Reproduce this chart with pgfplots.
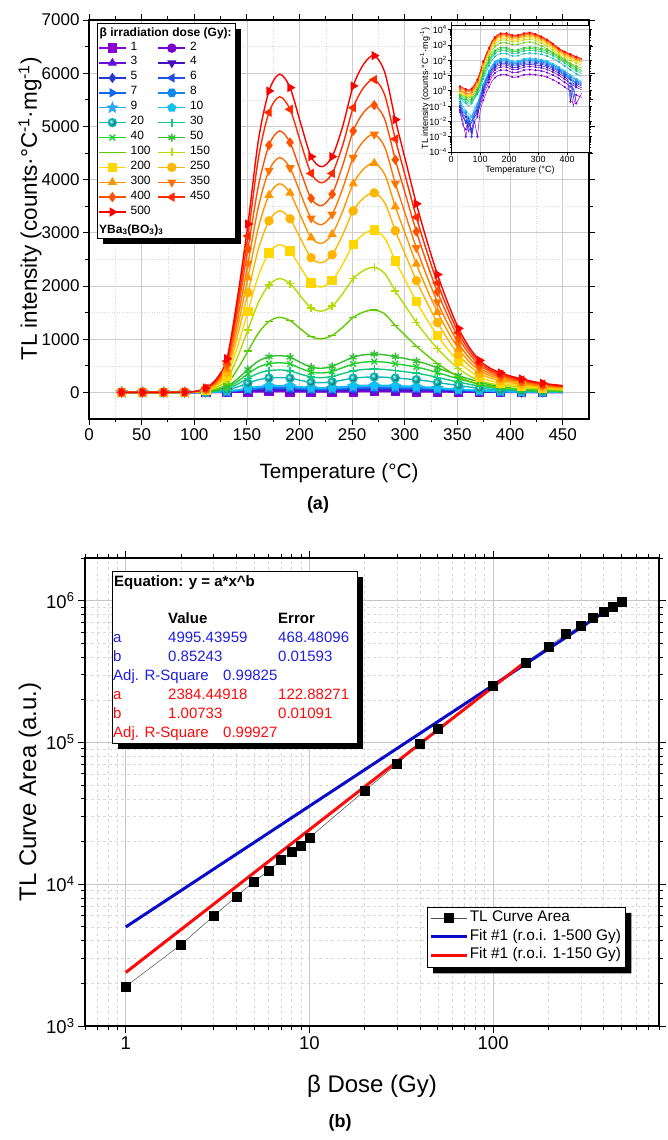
\documentclass[border=0pt]{standalone}
\usepackage{pgfplots}
\pgfplotsset{compat=1.18}
\usepackage{pgfplotstable}
\usepackage{fontspec}
\setmainfont{Liberation Sans}
\usetikzlibrary{plotmarks,shadows}

\definecolor{c1}{HTML}{8C00D4}
\definecolor{c2}{HTML}{7800D0}
\definecolor{c3}{HTML}{6010D8}
\definecolor{c4}{HTML}{4410C0}
\definecolor{c5}{HTML}{2838D8}
\definecolor{c6}{HTML}{2050E8}
\definecolor{c7}{HTML}{1068F0}
\definecolor{c8}{HTML}{1088F0}
\definecolor{c9}{HTML}{28A8F8}
\definecolor{c10}{HTML}{10C0F0}
\definecolor{c20}{HTML}{10B8B8}
\definecolor{c30}{HTML}{10C880}
\definecolor{c40}{HTML}{20D030}
\definecolor{c50}{HTML}{30C030}
\definecolor{c100}{HTML}{60CC00}
\definecolor{c150}{HTML}{B4DC00}
\definecolor{c200}{HTML}{FFD700}
\definecolor{c250}{HTML}{FFB600}
\definecolor{c300}{HTML}{FF9600}
\definecolor{c350}{HTML}{FF7400}
\definecolor{c400}{HTML}{FF5200}
\definecolor{c450}{HTML}{FF2A00}
\definecolor{c500}{HTML}{FF0000}
\definecolor{eqblue}{HTML}{2020E0}
\definecolor{fitblue}{HTML}{0A0AC8}
\definecolor{fitred}{HTML}{FF0A0A}

\pgfdeclareplotmark{hexa*}{%
\pgfpathmoveto{\pgfpointpolar{0}{\pgfplotmarksize}}%
\pgfpathlineto{\pgfpointpolar{60}{\pgfplotmarksize}}%
\pgfpathlineto{\pgfpointpolar{120}{\pgfplotmarksize}}%
\pgfpathlineto{\pgfpointpolar{180}{\pgfplotmarksize}}%
\pgfpathlineto{\pgfpointpolar{240}{\pgfplotmarksize}}%
\pgfpathlineto{\pgfpointpolar{300}{\pgfplotmarksize}}%
\pgfpathclose\pgfusepathqfillstroke}
\pgfdeclareplotmark{fstar}{%
\pgfpathmoveto{\pgfpointpolar{90}{1.2\pgfplotmarksize}}%
\pgfpathlineto{\pgfpointpolar{126}{0.5\pgfplotmarksize}}%
\pgfpathlineto{\pgfpointpolar{162}{1.2\pgfplotmarksize}}%
\pgfpathlineto{\pgfpointpolar{198}{0.5\pgfplotmarksize}}%
\pgfpathlineto{\pgfpointpolar{234}{1.2\pgfplotmarksize}}%
\pgfpathlineto{\pgfpointpolar{270}{0.5\pgfplotmarksize}}%
\pgfpathlineto{\pgfpointpolar{306}{1.2\pgfplotmarksize}}%
\pgfpathlineto{\pgfpointpolar{342}{0.5\pgfplotmarksize}}%
\pgfpathlineto{\pgfpointpolar{18}{1.2\pgfplotmarksize}}%
\pgfpathlineto{\pgfpointpolar{54}{0.5\pgfplotmarksize}}%
\pgfpathclose\pgfusepathqfillstroke}

\pgfplotsset{
 s1/.style={c1, mark=square*},
 s2/.style={c2, mark=*},
 s3/.style={c3, mark=triangle*},
 s4/.style={c4, mark=triangle*, mark options={rotate=180}},
 s5/.style={c5, mark=diamond*},
 s6/.style={c6, mark=triangle*, mark options={rotate=90}},
 s7/.style={c7, mark=triangle*, mark options={rotate=-90}},
 s8/.style={c8, mark=hexa*},
 s9/.style={c9, mark=fstar},
 s10/.style={c10, mark=pentagon*},
 s20/.style={c20, mark=ball, mark options={ball color=c20}},
 s30/.style={c30, mark=+},
 s40/.style={c40, mark=x},
 s50/.style={c50, mark=asterisk},
 s100/.style={c100, mark=-},
 s150/.style={c150, mark=+},
 s200/.style={c200, mark=square*},
 s250/.style={c250, mark=*},
 s300/.style={c300, mark=triangle*},
 s350/.style={c350, mark=triangle*, mark options={rotate=180}},
 s400/.style={c400, mark=diamond*},
 s450/.style={c450, mark=triangle*, mark options={rotate=90}},
 s500/.style={c500, mark=triangle*, mark options={rotate=-90}},
 mainline/.style={line width=1.4pt, smooth, mark size=4pt, mark repeat=2},
}

\pgfplotstableread{
T d1 d2 d3 d4 d5 d6 d7 d8 d9 d10 d20 d30 d40 d50 d100 d150 d200 d250 d300 d350 d400 d450 d500
31 0.05 0.08 0.04 0.1 0.06 0.15 0.1 0.2 0.15 0.3 0.4 0.5 0.4 0.6 0.6 0.8 0.7 1.0 1.2 1.1 1.5 1.8 2.0
41 0.01 0.02 0.005 0.03 0.02 0.04 0.03 0.06 0.05 0.1 0.2 0.3 0.25 0.4 0.5 0.6 0.5 0.8 0.9 0.8 1.2 1.4 1.6
51 0.001 0.01 0.003 0.02 0.008 0.03 0.01 0.04 0.03 0.05 0.15 0.2 0.3 0.3 0.4 0.5 0.5 0.6 0.7 0.7 1.0 1.2 1.3
61 0.01 0.004 0.02 0.002 0.01 0.005 0.02 0.01 0.02 0.03 0.1 0.15 0.2 0.25 0.35 0.4 0.45 0.5 0.6 0.65 0.9 1.0 1.1
71 0.002 0.01 0.001 0.01 0.003 0.01 0.001 0.02 0.01 0.02 0.15 0.2 0.25 0.3 0.4 0.5 0.5 0.7 0.8 0.8 1.1 1.3 1.4
81 0.01 0.02 0.01 0.03 0.02 0.04 0.03 0.05 0.06 0.08 0.3 0.35 0.4 0.5 0.7 0.9 1.0 1.2 1.4 1.6 2.0 2.3 2.6
91 0.001 0.03 0.02 0.05 0.04 0.06 0.08 0.1 0.12 0.15 0.6 0.8 1.0 1.2 1.5 2.0 2.5 3.0 3.5 4.0 4.5 5.0 5.5
101 0.06 0.12 0.19 0.26 0.33 0.39 0.47 0.54 0.59 0.68 1.45 2.2 2.9 3.6 4.7 7.1 9.2 11 13 15 16 18 19
111 0.24 0.48 0.76 1.04 1.32 1.56 1.86 2.14 2.36 2.7 5.8 8.8 11.6 14.4 20 31 40 49 56 63 70 76 82
121 0.72 1.44 2.28 3.12 3.96 4.68 5.58 6.42 7.08 8.1 17.4 26.4 34.8 43.2 62 94 122 150 172 194 216 235 253
131 1.8 3.6 5.7 7.8 9.9 11.7 14 16 17.7 20.3 43.5 66 87 108 155 235 305 375 431 485 540 588 633
141 4.2 8.4 13.3 18.2 23.1 27.3 32.6 37.5 41.3 47.3 101.5 154 203 252 434 658 854 1050 1207 1358 1512 1646 1772
151 7.2 14.4 22.8 31.2 39.6 46.8 55.8 64.2 70.8 81 174 264 348 432 775 1175 1525 1875 2155 2425 2700 2940 3165
161 9.8 19.7 31.2 42.6 54.1 64 76.3 87.7 96.8 110.7 238 361 476 590 1116 1692 2196 2700 3103 3492 3888 4410 4748
171 11.2 22.3 35.3 48.4 61.4 72.5 86.5 99.5 109.7 125.6 270 409 539 670 1333 2021 2623 3225 3707 4171 4644 5263 5665
181 11.5 23 36.5 49.9 63.4 74.9 89.3 102.7 113.3 129.6 278 422 557 691 1411 2139 2776 3413 3922 4414 4914 5557 5982
191 11 22.1 35 47.8 60.7 71.8 85.6 98.4 108.6 124.2 267 405 534 662 1349 2045 2654 3263 3750 4220 4698 5321 5729
201 9.4 18.7 29.6 40.6 51.5 60.8 72.5 83.5 92 105.3 226 343 452 562 1194 1810 2349 2888 3319 3735 4158 4704 5064
211 7.9 15.8 25.1 34.3 43.6 51.5 61.4 70.6 77.9 89.1 191 290 383 475 1046 1586 2059 2531 2909 3274 3645 4116 4431
221 7.6 15.1 23.9 32.8 41.6 49.1 58.6 67.4 74.3 85 183 277 365 454 1008 1528 1983 2438 2802 3153 3510 3940 4241
231 8.2 16.3 25.8 35.4 44.9 53 63.2 72.8 80.2 91.8 197 299 394 490 1070 1622 2105 2588 2974 3347 3726 4116 4431
241 9.6 19.2 30.4 41.6 52.8 62.4 74.4 85.6 94.4 108 232 352 464 576 1225 1857 2410 2963 3405 3832 4266 4645 5001
251 11 22.1 35 47.8 60.7 71.8 85.6 98.4 108.6 124.2 267 405 534 662 1411 2139 2776 3413 3922 4414 4914 5351 5760
261 11.8 23.5 37.2 51 64.7 76.4 91.1 104.9 115.6 132.3 284 431 568 706 1511 2291 2974 3656 4202 4729 5265 5733 6172
271 12 24 38 52 66 78 93 107 118 135 290 440 580 720 1550 2350 3050 3750 4310 4850 5400 5880 6330
281 11.8 23.5 37.2 51 64.7 76.4 91.1 104.9 115.6 132.3 284 431 568 706 1473 2233 2898 3563 4095 4608 5130 5586 6014
291 11.2 22.3 35.3 48.4 61.4 72.5 86.5 99.5 109.7 125.6 270 409 539 670 1256 1904 2471 3038 3491 3929 4374 4763 5127
301 10.6 21.1 33.4 45.8 58.1 68.6 81.8 94.2 103.8 118.8 255 387 510 634 1062 1610 2089 2569 2952 3322 3699 4028 4336
311 9.8 19.7 31.2 42.6 54.1 64 76.3 87.7 96.8 110.7 238 361 476 590 868 1316 1708 2100 2414 2716 3024 3293 3545
321 8.9 17.8 28.1 38.5 48.8 57.7 68.8 79.2 87.3 99.9 215 326 429 533 698 1058 1373 1688 1940 2183 2430 2646 2849
331 7.7 15.4 24.3 33.3 42.2 49.9 59.5 68.5 75.5 86.4 186 282 371 461 543 823 1068 1313 1509 1698 1890 2058 2216
341 6.5 13 20.5 28.1 35.6 42.1 50.2 57.8 63.7 72.9 157 238 313 389 411 623 808 994 1142 1285 1431 1558 1677
351 5.3 10.6 16.7 22.9 29 34.3 40.9 47.1 51.9 59.4 128 194 255 317 295 447 580 713 819 922 1026 1117 1203
361 4.2 8.4 13.3 18.2 23.1 27.3 32.6 37.5 41.3 47.3 102 154 203 252 209 317 412 506 582 655 729 794 855
371 3.2 6.5 10.3 14 17.8 21.1 25.1 28.9 31.9 36.5 78 119 157 194 147 223 290 356 409 461 513 559 601
381 2.4 4.8 7.6 10.4 13.2 15.6 18.6 21.4 23.6 27 58 88 116 144 112 169 220 270 310 349 389 423 456
391 1.8 3.6 5.7 7.8 9.9 11.7 14 16 17.7 20.3 43.5 66 87 108 90 136 177 218 250 281 313 341 367
401 1.3 2.6 4.2 5.7 7.3 8.6 10.2 11.8 13 14.9 31.9 48.4 63.8 79.2 74 113 146 180 207 233 259 282 304
411 0.96 1.9 3.0 0.2 5.3 6.2 7.4 8.6 0.5 10.8 23.2 35.2 46.4 57.6 62 94 122 150 172 194 216 235 253
421 0.1 1.44 2.28 3.1 4.0 4.7 0.3 6.4 7.1 8.1 17.4 26.4 34.8 43.2 51 78 101 124 142 160 178 194 209
431 0.54 0.15 1.7 2.3 3.0 3.5 4.2 4.8 5.3 6.1 13 19.8 26.1 32.4 42 63 82 101 116 131 146 159 171
450 0.36 0.72 1.14 1.56 2.0 2.3 2.8 3.2 3.5 4.1 8.7 13.2 17.4 21.6 31 47 61 75 86 97 108 118 127
}\tldata

\pgfplotstableread{
D A
1 1900
2 3750
3 5950
4 8200
5 10450
6 12400
7 14800
8 16900
9 18600
10 21300
20 45700
30 70600
40 98500
50 125000
100 251000
150 367000
200 474000
250 580000
300 665000
350 754000
400 840000
450 912000
500 978000
}\areadata

\begin{document}
\begin{tikzpicture}
\path[use as bounding box] (0pt,0pt) rectangle (667pt,1140pt);

% ---------- panel (a) ----------
\begin{axis}[
 at={(89pt,721pt)}, anchor=south west, scale only axis,
 width=500pt, height=399pt,
 xmin=0, xmax=475, ymin=-500, ymax=7000,
 xtick={0,50,...,450}, ytick={0,1000,...,7000},
 minor x tick num=1, minor y tick num=1,
 tick align=outside, major tick length=6pt, minor tick length=3.5pt,
 tick style={black, line width=0.9pt},
 axis line style={line width=1.1pt},
 grid=both,
 major grid style={draw=gray!40, line width=0.7pt},
 minor grid style={draw=gray!30, line width=0.5pt, dotted},
 ticklabel style={font=\fontsize{17}{17}\selectfont},
 /pgf/number format/assume math mode=true, /pgf/number format/1000 sep={},
 legend columns=2, legend cell align=left,
 legend style={at={(rel axis cs:0.018,0.9486)}, anchor=north west, draw=none, fill=none,
   font=\fontsize{12}{12}\selectfont, inner sep=0pt, row sep=0pt,
   nodes={inner sep=0pt, text height=9.4pt, text depth=5.5pt},
   /tikz/column 1/.style={column sep=4pt},
   /tikz/column 2/.style={column sep=7pt},
   /tikz/column 3/.style={column sep=4pt}},
 legend image code/.code={\draw[mark repeat=2,mark phase=2] plot coordinates {(0pt,0pt)(13.5pt,0pt)(27pt,0pt)};},
 legend entries={1,2,3,4,5,6,7,8,9,10,20,30,40,50,100,150,200,250,300,350,400,450,500},
]
\pgfplotsinvokeforeach{1,2,3,4,5,6,7,8,9,10,20,30,40,50,100,150,200,250,300,350,400,450,500}{
 \addplot[s#1, mainline] table[x=T, y=d#1]{\tldata};
}
\draw[fill=white, line width=0.8pt, drop shadow={shadow xshift=6pt, shadow yshift=-6pt, fill=black, opacity=1}]
 (rel axis cs:0.016,0.9925) rectangle (rel axis cs:0.292,0.4536);
\node[anchor=west, inner sep=0pt, font=\bfseries\fontsize{12}{12}\selectfont] at (rel axis cs:0.021,0.9674) {β irradiation dose (Gy):};
\node[anchor=west, inner sep=0pt, font=\bfseries\fontsize{12}{12}\selectfont] at (rel axis cs:0.02,0.4737) {YBa\textsubscript{3}(BO\textsubscript{3})\textsubscript{3}};
\end{axis}

% ---------- inset ----------
\begin{axis}[
 at={(451pt,988pt)}, anchor=south west, scale only axis,
 width=138pt, height=127pt,
 xmin=0, xmax=475, ymode=log, ymin=1e-4, ymax=2e4,
 xtick={0,100,200,300,400}, minor x tick num=1,
 ytick={1e-4,1e-3,1e-2,1e-1,1,10,100,1000,10000},
 yticklabels={10\textsuperscript{−4},10\textsuperscript{−3},10\textsuperscript{−2},10\textsuperscript{−1},10\textsuperscript{0},10\textsuperscript{1},10\textsuperscript{2},10\textsuperscript{3},10\textsuperscript{4}},
 tick align=outside, major tick length=3pt, minor tick length=1.5pt,
 tick style={black, line width=0.6pt},
 axis line style={line width=0.8pt},
 grid=major, major grid style={draw=gray!40, line width=0.5pt},
 axis background/.style={fill=white},
 ticklabel style={font=\fontsize{9}{9}\selectfont, inner sep=1pt},
 /pgf/number format/assume math mode=true,
 xlabel={Temperature (°C)}, ylabel={TL intensity (counts·°C\textsuperscript{-1}·mg\textsuperscript{-1})},
 label style={font=\fontsize{9}{9}\selectfont},
 xlabel style={yshift=1pt}, ylabel style={yshift=-5pt},
]
\pgfplotsinvokeforeach{1,2,3,4,5,6,7,8,9,10,20,30,40,50,100,150,200,250,300,350,400,450,500}{
 \addplot[c#1, line width=0.5pt, mark=*, mark size=0.8pt, mark repeat=2] table[x=T, y=d#1]{\tldata};
}
\end{axis}

% ---------- panel (b) ----------
\begin{axis}[
 at={(85pt,114pt)}, anchor=south west, scale only axis,
 width=574pt, height=468pt,
 xmode=log, ymode=log, xmin=0.6, xmax=800, ymin=1000, ymax=2e6,
 xtick={1,10,100}, xticklabels={1,10,100},
 ytick={1000,10000,100000,1000000},
 yticklabels={10\textsuperscript{3},10\textsuperscript{4},10\textsuperscript{5},10\textsuperscript{6}},
 minor xtick={0.6,0.7,0.8,0.9,2,3,4,5,6,7,8,9,20,30,40,50,60,70,80,90,200,300,400,500,600,700,800},
 minor ytick={2000,3000,4000,5000,6000,7000,8000,9000,20000,30000,40000,50000,60000,70000,80000,90000,200000,300000,400000,500000,600000,700000,800000,900000,2000000},
 tick align=outside, major tick length=7pt, minor tick length=4pt,
 tick style={black, line width=0.9pt},
 axis line style={line width=1.1pt},
 grid=both,
 major grid style={draw=gray!45, line width=0.7pt},
 minor grid style={draw=gray!30, line width=0.5pt, dashed},
 ticklabel style={font=\fontsize{18.5}{18.5}\selectfont},
]
\addplot[black!70, line width=0.5pt, mark=square*, mark size=4.5pt, mark options={black}] table[x=D, y=A]{\areadata};
\addplot[fitblue, line width=3pt, no markers] coordinates {(1,4995.44) (500,998000)};
\addplot[fitred, line width=3pt, no markers] coordinates {(1,2384.45) (150,371000)};
\end{axis}

% legend box of panel (b)
\draw[fill=white, line width=0.8pt] (427pt,233pt) rectangle (625pt,173pt);

% overlay axis carrying the legend of panel (b)
\begin{axis}[
 at={(85pt,114pt)}, anchor=south west, scale only axis,
 width=574pt, height=468pt, hide axis,
 xmin=0, xmax=1, ymin=0, ymax=1,
 legend cell align=left,
 legend style={at={(rel axis cs:0.596,0.254)}, anchor=north west, draw=none, fill=none,
   font=\fontsize{15.4}{15.4}\selectfont, inner sep=2pt, row sep=1pt,
   nodes={inner sep=1.5pt, text height=11pt, text depth=3.5pt}},
 legend image code/.code={\draw[mark repeat=2,mark phase=2] plot coordinates {(0pt,0pt)(18pt,0pt)(36pt,0pt)};},
]
\addlegendimage{black!70, line width=0.5pt, mark=square*, mark size=4.5pt, mark options={black}}
\addlegendentry{TL Curve Area}
\addlegendimage{fitblue, line width=3pt, no markers}
\addlegendentry{Fit \#1 (r.o.i. 1-500 Gy)}
\addlegendimage{fitred, line width=3pt, no markers}
\addlegendentry{Fit \#1 (r.o.i. 1-150 Gy)}
\end{axis}

% shadow of that legend box, drawn last and only outside the box
\fill[black] (625.4pt,227pt) -- (631.4pt,227pt) -- (631.4pt,166.6pt) -- (433pt,166.6pt)
 -- (433pt,172.6pt) -- (625.4pt,172.6pt) -- cycle;
\draw[line width=0.8pt] (427pt,233pt) rectangle (625pt,173pt);

% equation box
\draw[fill=white, line width=0.8pt, drop shadow={shadow xshift=6pt, shadow yshift=-6pt, fill=black, opacity=1}]
 (112pt,569pt) rectangle (357pt,397pt);
\begin{scope}[every node/.style={anchor=base west, inner sep=0pt, font=\fontsize{15}{15}\selectfont}]
\node[font=\bfseries\fontsize{15}{15}\selectfont] at (114pt,553pt) {Equation: y = a*x\textasciicircum b};
\node[font=\bfseries\fontsize{15}{15}\selectfont] at (168pt,516pt) {Value};
\node[font=\bfseries\fontsize{15}{15}\selectfont] at (278pt,516pt) {Error};
\node[text=eqblue] at (113pt,497pt) {a};
\node[text=eqblue] at (168pt,497pt) {4995.43959};
\node[text=eqblue] at (278pt,497pt) {468.48096};
\node[text=eqblue] at (113pt,478pt) {b};
\node[text=eqblue] at (168pt,478pt) {0.85243};
\node[text=eqblue] at (278pt,478pt) {0.01593};
\node[text=eqblue] at (113pt,459pt) {Adj. R-Square};
\node[text=eqblue] at (223pt,459pt) {0.99825};
\node[text=fitred] at (113pt,440pt) {a};
\node[text=fitred] at (168pt,440pt) {2384.44918};
\node[text=fitred] at (278pt,440pt) {122.88271};
\node[text=fitred] at (113pt,421pt) {b};
\node[text=fitred] at (168pt,421pt) {1.00733};
\node[text=fitred] at (278pt,421pt) {0.01091};
\node[text=fitred] at (113pt,402pt) {Adj. R-Square};
\node[text=fitred] at (223pt,402pt) {0.99927};
\end{scope}

% axis titles and panel labels
\node[font=\fontsize{20.7}{20.7}\selectfont] at (339pt,667pt) {Temperature (°C)};
\node[font=\bfseries\fontsize{18}{18}\selectfont] at (318pt,635pt) {(a)};
\node[rotate=90, font=\fontsize{22.5}{22.5}\selectfont] at (30pt,931pt) {TL intensity (counts·°C\textsuperscript{-1}·mg\textsuperscript{-1})};
\node[font=\fontsize{24}{24}\selectfont] at (372pt,54pt) {β Dose (Gy)};
\node[font=\bfseries\fontsize{18}{18}\selectfont] at (340pt,17pt) {(b)};
\node[rotate=90, font=\fontsize{24}{24}\selectfont] at (30pt,348pt) {TL Curve Area (a.u.)};
\end{tikzpicture}
\end{document}
